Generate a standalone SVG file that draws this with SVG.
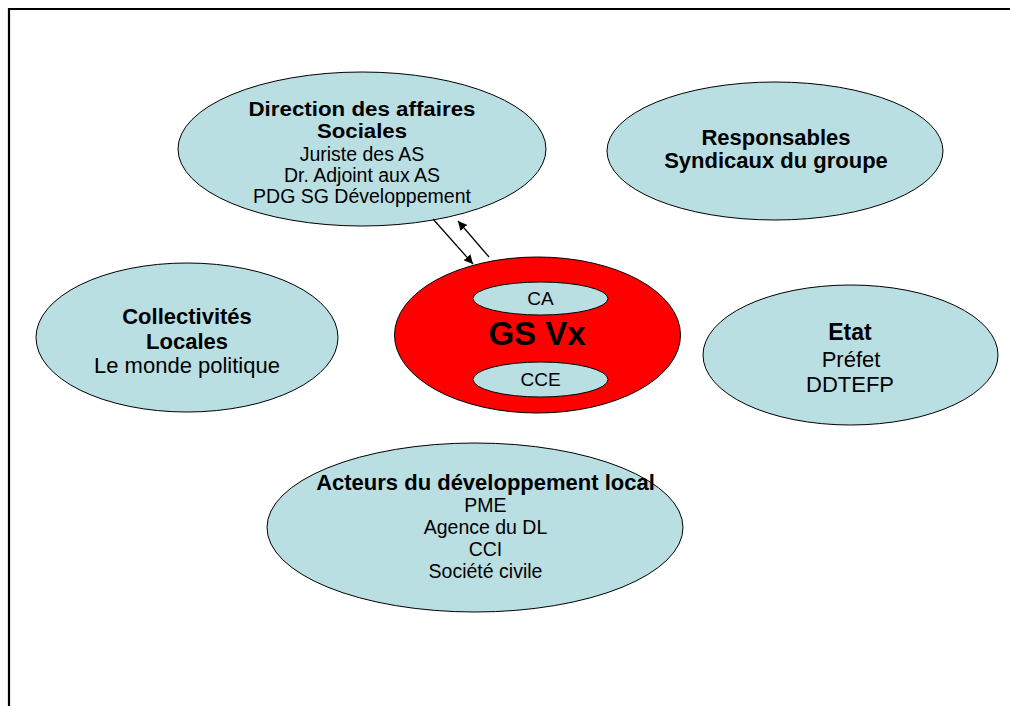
<svg xmlns="http://www.w3.org/2000/svg" width="1010" height="706" viewBox="0 0 1010 706">
<style>
.n{fill:#badfe3;stroke:#000;stroke-width:1}
.r{fill:#ff0000;stroke:#000;stroke-width:1}
text{font-family:"Liberation Sans",Arial,sans-serif;fill:#000;text-anchor:middle}
.b{font-weight:bold;font-size:22px}
.bs{font-weight:bold;font-size:19.5px}
.t{font-size:19.5px}
.t2{font-size:22px}
.c{stroke:#000;stroke-width:1.3;fill:none}
</style>
<defs>
<marker id="ah" viewBox="0 0 10 10" refX="10" refY="5" markerWidth="9" markerHeight="9" markerUnits="userSpaceOnUse" orient="auto">
<path d="M0,0 L10,5 L0,10 z" fill="#000"/>
</marker>
</defs>
<rect width="1010" height="706" fill="#fff"/>
<path d="M9,706 V9 H1010" fill="none" stroke="#000" stroke-width="2.2"/>

<g id="direction">
<ellipse class="n" cx="362" cy="149" rx="184" ry="77"/>
<text class="bs" x="362" y="116" textLength="227" lengthAdjust="spacingAndGlyphs">Direction des affaires</text>
<text class="bs" x="362" y="138" textLength="90" lengthAdjust="spacingAndGlyphs">Sociales</text>
<text class="t" x="362" y="161">Juriste des AS</text>
<text class="t" x="362" y="182">Dr. Adjoint aux AS</text>
<text class="t" x="362" y="203">PDG SG Développement</text>
</g>

<g id="responsables">
<ellipse class="n" cx="775" cy="151" rx="168" ry="69"/>
<text class="b" x="776" y="145">Responsables</text>
<text class="b" x="776" y="168">Syndicaux du groupe</text>
</g>

<g id="collectivites">
<ellipse class="n" cx="187" cy="337.5" rx="151" ry="74.5"/>
<text class="b" x="187" y="324">Collectivités</text>
<text class="b" x="187" y="349">Locales</text>
<text class="t2" x="187" y="373">Le monde politique</text>
</g>

<g id="etat">
<ellipse class="n" cx="850.5" cy="355" rx="147.5" ry="70"/>
<text class="b" x="850" y="340" style="font-size:23px">Etat</text>
<text class="t2" x="851" y="367">Préfet</text>
<text class="t2" x="850" y="392">DDTEFP</text>
</g>

<g id="acteurs">
<ellipse class="n" cx="475" cy="527.5" rx="208" ry="84.5"/>
<text class="b" x="485.5" y="490">Acteurs du développement local</text>
<text class="t" x="485.5" y="512">PME</text>
<text class="t" x="485.5" y="534">Agence du DL</text>
<text class="t" x="485.5" y="556">CCI</text>
<text class="t" x="485.5" y="578">Société civile</text>
</g>

<g id="gsvx">
<ellipse class="r" cx="537.5" cy="335" rx="143" ry="78"/>
<g id="ca">
<ellipse class="n" cx="540.5" cy="298.5" rx="67.5" ry="16.5"/>
<text x="540.5" y="305" style="font-size:19px">CA</text>
</g>
<g id="cce">
<ellipse class="n" cx="540.5" cy="379.5" rx="67.5" ry="17.5"/>
<text x="540.5" y="386" style="font-size:19px">CCE</text>
</g>
<text x="537" y="345" style="font-size:33px;font-weight:bold">GS Vx</text>
</g>

<g id="connectors">
<line class="c" x1="433" y1="219" x2="473" y2="264" marker-end="url(#ah)"/>
<line class="c" x1="489" y1="257" x2="458" y2="221" marker-end="url(#ah)"/>
</g>
</svg>
